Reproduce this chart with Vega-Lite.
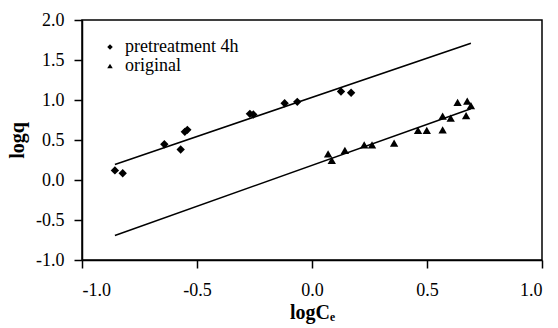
{
  "$schema": "https://vega.github.io/schema/vega-lite/v6.json",
  "autosize": {"type": "none"},
  "padding": {"left": 82, "top": 20, "right": 16, "bottom": 68},
  "width": 460,
  "height": 240,
  "background": "white",
  "config": {
    "font": "Liberation Serif",
    "style": {
      "guide-label": {"font": "Liberation Serif", "fill": "black"},
      "guide-title": {"font": "Liberation Serif", "fill": "black"}
    },
    "view": {"stroke": "black", "strokeWidth": 1.5},
    "legend": {"labelFont": "Liberation Serif", "labelFontSize": 18, "labelColor": "black"},
    "axis": {
      "grid": false,
      "domainColor": "black",
      "domainWidth": 1.5,
      "tickColor": "black",
      "tickWidth": 1.5,
      "tickSize": 8,
      "labelFont": "Liberation Serif",
      "labelFontSize": 18,
      "labelColor": "black",
      "labelOverlap": false,
      "titleFont": "Liberation Serif",
      "titleFontSize": 20,
      "titleFontWeight": "bold",
      "titleColor": "black"
    }
  },
  "datasets": {
    "points": [
      {"series": "pretreatment 4h", "logCe": -0.857, "logq": 0.12},
      {"series": "pretreatment 4h", "logCe": -0.823, "logq": 0.085},
      {"series": "pretreatment 4h", "logCe": -0.642, "logq": 0.447},
      {"series": "pretreatment 4h", "logCe": -0.571, "logq": 0.381},
      {"series": "pretreatment 4h", "logCe": -0.553, "logq": 0.602},
      {"series": "pretreatment 4h", "logCe": -0.542, "logq": 0.627},
      {"series": "pretreatment 4h", "logCe": -0.27, "logq": 0.827},
      {"series": "pretreatment 4h", "logCe": -0.255, "logq": 0.819},
      {"series": "pretreatment 4h", "logCe": -0.119, "logq": 0.96},
      {"series": "pretreatment 4h", "logCe": -0.064, "logq": 0.977},
      {"series": "pretreatment 4h", "logCe": 0.126, "logq": 1.106},
      {"series": "pretreatment 4h", "logCe": 0.17, "logq": 1.09},
      {"series": "original", "logCe": 0.07, "logq": 0.327},
      {"series": "original", "logCe": 0.086, "logq": 0.244},
      {"series": "original", "logCe": 0.143, "logq": 0.369},
      {"series": "original", "logCe": 0.227, "logq": 0.44},
      {"series": "original", "logCe": 0.261, "logq": 0.44},
      {"series": "original", "logCe": 0.357, "logq": 0.46},
      {"series": "original", "logCe": 0.461, "logq": 0.619},
      {"series": "original", "logCe": 0.499, "logq": 0.619},
      {"series": "original", "logCe": 0.568, "logq": 0.627},
      {"series": "original", "logCe": 0.568, "logq": 0.797},
      {"series": "original", "logCe": 0.603, "logq": 0.772},
      {"series": "original", "logCe": 0.633, "logq": 0.969},
      {"series": "original", "logCe": 0.67, "logq": 0.806},
      {"series": "original", "logCe": 0.675, "logq": 0.985},
      {"series": "original", "logCe": 0.691, "logq": 0.931}
    ],
    "fits": [
      {"series": "pretreatment 4h", "logCe": -0.857, "logq": 0.194},
      {"series": "pretreatment 4h", "logCe": 0.691, "logq": 1.71},
      {"series": "original", "logCe": -0.857, "logq": -0.694},
      {"series": "original", "logCe": 0.691, "logq": 0.89}
    ]
  },
  "encoding": {
    "x": {
      "field": "logCe", "type": "quantitative",
      "scale": {"domain": [-1, 1], "nice": false, "zero": false},
      "axis": {"values": [-1, -0.5, 0, 0.5, 1], "labelOverlap": false, "labelFont": "Liberation Serif", "labelExpr": "replace(format(datum.value, '.1f'), '\u2212', '-')", "labelPadding": 13, "title": "logCₑ", "titlePadding": 3}
    },
    "y": {
      "field": "logq", "type": "quantitative",
      "scale": {"domain": [-1, 2], "nice": false, "zero": false},
      "axis": {"values": [-1, -0.5, 0, 0.5, 1, 1.5, 2], "labelOverlap": false, "labelFont": "Liberation Serif", "labelExpr": "replace(format(datum.value, '.1f'), '\u2212', '-')", "labelPadding": 10, "title": "logq", "titlePadding": 8}
    }
  },
  "layer": [
    {
      "data": {"name": "fits"},
      "mark": {"type": "line", "color": "black", "strokeWidth": 1.5},
      "encoding": {
        "detail": {"field": "series"}
      }
    },
    {
      "data": {"name": "points"},
      "mark": {"type": "point", "filled": true, "color": "black", "opacity": 1, "size": 70},
      "encoding": {
        "shape": {
          "field": "series", "type": "nominal",
          "scale": {"domain": ["pretreatment 4h", "original"], "range": ["diamond", "triangle-up"]},
          "legend": {
            "title": null,
            "orient": "none",
            "legendX": 19,
            "legendY": 18,
            "padding": 0,
            "labelFont": "Liberation Serif",
            "labelColor": "black",
            "labelOffset": 6,
            "symbolSize": 30,
            "symbolFillColor": "black",
            "symbolStrokeColor": "black",
            "rowPadding": 1
          }
        }
      }
    }
  ]
}
